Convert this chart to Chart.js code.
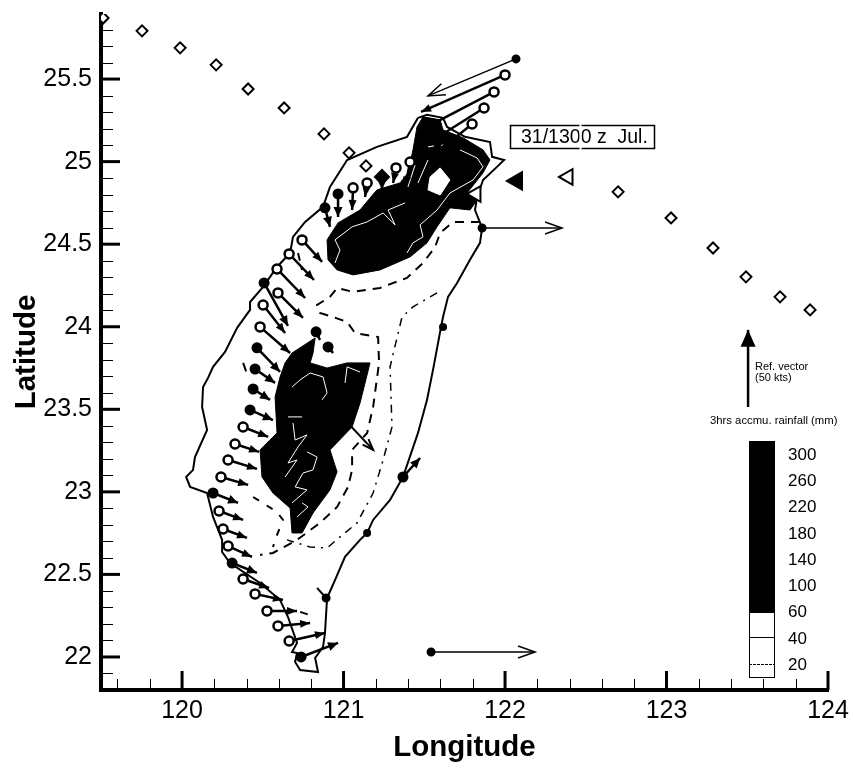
<!DOCTYPE html>
<html>
<head>
<meta charset="utf-8">
<script src="https://cdn.jsdelivr.net/npm/chart.js@4"></script>
<style>
  html, body { margin: 0; padding: 0; background: #fff; }
  canvas { display: block; }
</style>
</head>
<body>
<canvas id="chart" width="853" height="769"></canvas>
<script>
// axis ticks
const xMajorTicks = [120, 121, 122, 123, 124];
const xMinorTicks = [119.6, 119.8, 120.2, 120.4, 120.6, 120.8, 121.2, 121.4, 121.6, 121.8, 122.2, 122.4, 122.6, 122.8, 123.2, 123.4, 123.6, 123.8];
const yMajorTicks = [22, 22.5, 23, 23.5, 24, 24.5, 25, 25.5];
const yMinorTicks = [21.9, 22.1, 22.2, 22.3, 22.4, 22.6, 22.7, 22.8, 22.9, 23.1, 23.2, 23.3, 23.4, 23.6, 23.7, 23.8, 23.9, 24.1, 24.2, 24.3, 24.4, 24.6, 24.7, 24.8, 24.9, 25.1, 25.2, 25.3, 25.4, 25.6, 25.7, 25.8];

// legend and labels
const rainLevels = [300, 260, 220, 180, 140, 100, 60, 40, 20];
const timeLabel = '31/1300 z  Jul.';

// island outline, lon/lat
const coastline = [[121.461,25.265],[121.517,25.283],[121.616,25.265],[121.641,25.210],[121.752,25.150],[121.907,25.119],[121.920,25.029],[121.994,25.010],[121.950,24.968],[121.864,24.889],[121.827,24.786],[121.814,24.707],[121.858,24.598],[121.845,24.508],[121.783,24.405],[121.703,24.265],[121.647,24.181],[121.616,24.059],[121.598,23.969],[121.560,23.769],[121.517,23.557],[121.461,23.357],[121.368,23.090],[121.288,22.951],[121.183,22.830],[121.146,22.751],[121.102,22.709],[121.009,22.606],[120.947,22.466],[120.898,22.357],[120.885,22.145],[120.873,22.061],[120.824,21.994],[120.842,21.909],[120.731,21.921],[120.700,21.970],[120.712,22.024],[120.681,22.030],[120.712,22.085],[120.656,22.242],[120.607,22.345],[120.483,22.448],[120.297,22.569],[120.248,22.636],[120.248,22.709],[120.192,22.848],[120.155,22.993],[120.050,23.030],[120.025,23.090],[120.068,23.133],[120.080,23.211],[120.155,23.375],[120.124,23.514],[120.130,23.635],[120.161,23.690],[120.192,23.757],[120.266,23.847],[120.341,23.993],[120.421,24.102],[120.421,24.150],[120.502,24.241],[120.588,24.362],[120.669,24.447],[120.687,24.544],[120.762,24.635],[120.873,24.726],[120.916,24.847],[121.022,25.010],[121.207,25.089],[121.393,25.150],[121.461,25.265]];

// heavy rain areas
const rainNorth = [[120.904,24.405],[120.898,24.526],[120.966,24.629],[121.102,24.707],[121.207,24.829],[121.350,24.871],[121.399,24.932],[121.430,25.071],[121.455,25.210],[121.492,25.271],[121.598,25.253],[121.616,25.192],[121.740,25.144],[121.864,25.071],[121.907,25.010],[121.864,24.932],[121.765,24.810],[121.827,24.768],[121.783,24.707],[121.659,24.720],[121.579,24.605],[121.517,24.508],[121.412,24.423],[121.226,24.344],[121.059,24.314],[120.960,24.344],[120.904,24.405]];
const rainSouth = [[120.824,23.932],[120.681,23.841],[120.638,23.781],[120.607,23.696],[120.576,23.575],[120.588,23.357],[120.483,23.254],[120.495,23.090],[120.563,22.993],[120.669,22.902],[120.681,22.751],[120.743,22.751],[120.811,22.872],[120.916,23.012],[120.960,23.121],[120.916,23.254],[121.053,23.393],[121.102,23.538],[121.164,23.781],[121.022,23.781],[120.898,23.750],[120.793,23.781],[120.811,23.841],[120.824,23.932]];
const rainHole = [[121.536,24.907],[121.598,24.962],[121.659,24.889],[121.598,24.798],[121.523,24.829],[121.536,24.907]];

// white gaps inside the black areas
const gapLines = [
  [[120.947,24.386],[120.978,24.465],[120.947,24.526],[121.053,24.605],[121.146,24.635],[121.245,24.689],[121.319,24.617],[121.276,24.707],[121.381,24.750]],
  [[121.393,24.447],[121.430,24.508],[121.492,24.544],[121.474,24.617],[121.579,24.707],[121.659,24.810],[121.802,24.889],[121.864,24.968],[121.827,25.022],[121.721,25.071]],
  [[121.399,24.847],[121.443,24.980]],
  [[121.461,24.871],[121.523,25.010]],
  [[121.523,25.089],[121.560,25.095]],
  [[121.604,25.095],[121.635,25.113]],
  [[120.638,23.090],[120.712,23.193],[120.656,23.175],[120.718,23.272],[120.774,23.345],[120.700,23.314],[120.687,23.417]],
  [[120.681,22.933],[120.774,23.012],[120.700,23.030],[120.749,23.114],[120.811,23.133],[120.836,23.211],[120.774,23.242]],
  [[120.712,22.848],[120.780,22.909],[120.743,22.933]],
  [[120.681,23.635],[120.731,23.678],[120.793,23.720],[120.873,23.696],[120.898,23.599],[120.867,23.557]],
  [[121.009,23.660],[121.022,23.757],[121.102,23.726]],
  [[120.656,23.454],[120.743,23.454]]
];

// rainfall contours
const contourDashed = [[121.845,24.635],[121.678,24.635],[121.598,24.568],[121.567,24.483],[121.492,24.386],[121.393,24.296],[121.226,24.235],[121.059,24.211],[120.960,24.235],[120.916,24.181],[120.836,24.132],[120.854,24.084],[120.935,24.059],[121.022,24.029],[121.071,23.962],[121.214,23.938],[121.220,23.781],[121.183,23.514],[121.146,23.357],[121.053,23.254],[121.053,23.133],[121.028,23.030],[120.960,22.909],[120.854,22.812],[120.712,22.709],[120.563,22.630],[120.483,22.618]];
const contourDashDot = [[121.579,24.205],[121.430,24.120],[121.362,24.059],[121.288,23.757],[121.300,23.393],[121.245,23.193],[121.183,22.993],[121.084,22.812],[120.978,22.727],[120.898,22.660],[120.793,22.666],[120.650,22.709]];
const contourWestA = [[120.378,23.781],[120.409,23.696]];
const contourWestB = [[120.440,22.969],[120.588,22.878],[120.625,22.830],[120.588,22.739],[120.563,22.666]];
const contourBits = [[120.731,22.273],[120.811,22.248]];
const contourInner = [[120.718,24.447],[120.743,24.344]];

// wind vectors: lon0, lat0, lon1, lat1
const openStationVectors = [[122.000,25.525,121.480,25.301],[121.932,25.422,121.505,25.204],[121.870,25.325,121.536,25.119],[121.796,25.228,121.598,25.071],[121.412,24.998,121.381,24.847],[121.325,24.962,121.307,24.871],[121.146,24.871,121.133,24.786],[121.059,24.841,121.053,24.707],[120.743,24.526,120.867,24.393],[120.663,24.441,120.817,24.283],[120.588,24.350,120.762,24.174],[120.594,24.205,120.749,24.053],[120.502,24.132,120.638,23.962],[120.483,23.999,120.669,23.841],[120.378,23.393,120.533,23.333],[120.328,23.290,120.477,23.242],[120.285,23.193,120.464,23.139],[120.241,23.090,120.409,23.042],[120.229,22.884,120.378,22.830],[120.254,22.775,120.402,22.721],[120.285,22.672,120.433,22.606],[120.378,22.472,120.539,22.418],[120.452,22.382,120.625,22.345],[120.526,22.279,120.712,22.279],[120.594,22.188,120.793,22.206],[120.663,22.097,120.885,22.145]];
const filledStationVectors = [[121.238,24.907,121.238,24.829],[120.966,24.804,120.966,24.665],[120.885,24.720,120.916,24.605],[120.508,24.265,120.656,24.005],[120.464,23.872,120.607,23.726],[120.452,23.744,120.576,23.660],[120.440,23.623,120.545,23.557],[120.421,23.496,120.563,23.435],[120.192,22.993,120.347,22.933],[120.310,22.569,120.464,22.509],[120.737,22.000,120.966,22.085],[120.830,23.969,120.854,23.920],[120.904,23.878,120.935,23.841],[121.368,23.090,121.474,23.205]];
const hiddenStationVectors = [[121.009,23.435,121.183,23.254]];
const longHeadVectors = [[122.068,25.622,121.523,25.398],[121.858,24.598,122.353,24.598],[121.542,22.030,122.186,22.030]];
const plainVectors = [[120.892,22.357,120.836,22.418]];
const refVector = [[123.505,23.514,123.505,23.981]];
const lonelyStations = [[121.616,23.999],[121.146,22.751]];

// typhoon track
const trackDiamonds = [[119.511,25.870],[119.752,25.792],[119.988,25.689],[120.211,25.586],[120.409,25.440],[120.632,25.325],[120.879,25.168],[121.034,25.053],[121.139,24.974],[122.700,24.817],[123.028,24.659],[123.288,24.477],[123.492,24.302],[123.703,24.181],[123.889,24.102]];
const trackFilledDiamonds = [[121.238,24.907]];
const trackOpenTriangles = [[122.390,24.907],[121.820,24.804]];
const trackFilledTriangles = [[122.074,24.883]];

function toPoints(list) {
  return list.map(p => ({ x: p[0], y: p[1] }));
}

function startPoints(list) {
  return list.map(v => ({ x: v[0], y: v[1] }));
}

// shafts as one broken line, NaN breaks it between vectors
function shaftPoints(list) {
  const out = [];
  list.forEach(v => {
    out.push({ x: v[0], y: v[1] });
    out.push({ x: v[2], y: v[3] });
    out.push({ x: NaN, y: NaN });
  });
  return out;
}

function lineSet(points, order, extra) {
  return Object.assign({
    data: points,
    showLine: true,
    spanGaps: false,
    borderColor: '#000',
    borderWidth: 2,
    pointRadius: 0,
    pointHoverRadius: 0,
    tension: 0,
    fill: false,
    order: order
  }, extra || {});
}

function pointSet(points, order, style, radius, bg, extra) {
  return Object.assign({
    data: points,
    showLine: false,
    pointStyle: style,
    pointRadius: radius,
    pointHoverRadius: radius,
    pointBackgroundColor: bg,
    pointBorderColor: '#000',
    pointBorderWidth: 2,
    order: order
  }, extra || {});
}

const areaFill = (color) => ({ fill: 'shape', backgroundColor: color, borderColor: color, borderWidth: 1 });

const datasets = [
  lineSet(toPoints(coastline), 90),
  lineSet(toPoints(contourDashed), 88, { borderDash: [9, 7] }),
  lineSet(toPoints(contourDashDot), 88, { borderDash: [8, 6, 2, 6], borderWidth: 1.5 }),
  lineSet(toPoints(contourWestA), 88, { borderDash: [9, 7] }),
  lineSet(toPoints(contourWestB), 88, { borderDash: [7, 9] }),
  lineSet(toPoints(contourBits), 88, { borderDash: [8, 12] }),
  lineSet(toPoints(contourInner), 88, { borderDash: [8, 6] }),
  lineSet(toPoints(rainNorth), 80, areaFill('#000')),
  lineSet(toPoints(rainSouth), 80, areaFill('#000')),
  lineSet(toPoints(rainHole), 79, areaFill('#fff')),
  lineSet(shaftPoints(openStationVectors), 70, { borderWidth: 2.5 }),
  lineSet(shaftPoints(filledStationVectors), 70, { borderWidth: 2.5 }),
  lineSet(shaftPoints(hiddenStationVectors), 70),
  lineSet(shaftPoints(longHeadVectors), 70, { borderWidth: 1.5 }),
  lineSet(shaftPoints(plainVectors), 70),
  lineSet(shaftPoints(refVector), 70, { borderWidth: 2.5 }),
  pointSet(startPoints(openStationVectors), 60, 'circle', 4.5, '#fff', { pointBorderWidth: 2.5 }),
  pointSet(startPoints(filledStationVectors), 60, 'circle', 4.5, '#000'),
  pointSet(startPoints(longHeadVectors), 60, 'circle', 3.5, '#000'),
  pointSet(startPoints(plainVectors), 60, 'circle', 3.5, '#000'),
  pointSet(toPoints(lonelyStations), 60, 'circle', 3, '#000'),
  pointSet(toPoints(trackDiamonds), 50, 'rectRot', 5.5, '#fff'),
  pointSet(toPoints(trackFilledDiamonds), 50, 'rectRot', 7, '#000'),
  pointSet(toPoints(trackOpenTriangles), 50, 'triangle', 9, '#fff', { pointRotation: -90 }),
  pointSet(toPoints(trackFilledTriangles), 50, 'triangle', 10, '#000', { pointRotation: -90 })
];

gapLines.forEach(g => {
  datasets.push(lineSet(toPoints(g), 75, { borderColor: '#fff', borderWidth: 1 }));
});

function drawHead(ctx, x0, y0, x1, y1, len, half, solid) {
  const a = Math.atan2(y1 - y0, x1 - x0);
  const bx = x1 - len * Math.cos(a);
  const by = y1 - len * Math.sin(a);
  const px = -Math.sin(a) * half;
  const py = Math.cos(a) * half;
  ctx.beginPath();
  ctx.moveTo(bx + px, by + py);
  ctx.lineTo(x1, y1);
  ctx.lineTo(bx - px, by - py);
  if (solid) {
    ctx.closePath();
    ctx.fill();
  } else {
    ctx.stroke();
  }
}

const arrowHeads = {
  id: 'arrowHeads',
  afterDatasetsDraw(chart) {
    const { ctx, scales: { x, y } } = chart;
    const heads = (list, len, half, solid, lw) => {
      list.forEach(v => {
        ctx.lineWidth = lw;
        drawHead(ctx, x.getPixelForValue(v[0]), y.getPixelForValue(v[1]), x.getPixelForValue(v[2]), y.getPixelForValue(v[3]), len, half, solid);
      });
    };
    ctx.save();
    ctx.fillStyle = '#000';
    ctx.strokeStyle = '#000';
    heads(openStationVectors, 10, 4, true, 1);
    heads(filledStationVectors, 10, 4.5, true, 1);
    heads(hiddenStationVectors, 11, 4, false, 2);
    heads(longHeadVectors, 17, 6, false, 1.5);
    heads(refVector, 17, 7.5, true, 1);
    ctx.restore();
  }
};

const axisMarks = {
  id: 'axisMarks',
  afterDraw(chart) {
    const { ctx, chartArea, scales: { x, y } } = chart;
    const ax = chartArea.left;
    const ay = chartArea.bottom;
    ctx.save();
    ctx.strokeStyle = '#000';
    ctx.lineWidth = 1;
    xMinorTicks.forEach(v => {
      const p = Math.round(x.getPixelForValue(v)) + 0.5;
      ctx.beginPath(); ctx.moveTo(p, ay); ctx.lineTo(p, ay - 11); ctx.stroke();
    });
    yMinorTicks.forEach(v => {
      const p = Math.round(y.getPixelForValue(v)) + 0.5;
      ctx.beginPath(); ctx.moveTo(ax, p); ctx.lineTo(ax + 12, p); ctx.stroke();
    });
    ctx.lineWidth = 3;
    xMajorTicks.forEach(v => {
      const p = x.getPixelForValue(v);
      ctx.beginPath(); ctx.moveTo(p, ay); ctx.lineTo(p, ay - 19); ctx.stroke();
    });
    yMajorTicks.forEach(v => {
      const p = y.getPixelForValue(v);
      ctx.beginPath(); ctx.moveTo(ax, p); ctx.lineTo(ax + 19, p); ctx.stroke();
    });
    ctx.restore();
  }
};

const overlayText = {
  id: 'overlayText',
  afterDraw(chart) {
    const { ctx } = chart;
    ctx.save();
    ctx.fillStyle = '#000';
    ctx.strokeStyle = '#000';
    ctx.textBaseline = 'middle';

    // time box, with the scan seam through it
    ctx.fillStyle = '#fff';
    ctx.fillRect(510, 125, 145, 24);
    ctx.fillStyle = '#000';
    ctx.lineWidth = 1.5;
    ctx.strokeRect(510.5, 125.5, 144, 23);
    ctx.font = '19.5px "Liberation Sans"';
    ctx.textAlign = 'left';
    ctx.fillText(timeLabel, 521, 138);
    ctx.fillStyle = '#fff';
    ctx.fillRect(579.5, 123, 2, 28);
    ctx.fillStyle = '#000';

    ctx.font = '11px "Liberation Sans"';
    ctx.fillText('Ref. vector', 755, 367);
    ctx.fillText('(50 kts)', 755, 378);
    ctx.font = '11.3px "Liberation Sans"';
    ctx.fillText('3hrs accmu. rainfall (mm)', 710, 421);

    // rainfall colour bar
    const barLeft = 749, barWidth = 26, barTop = 441, step = 26.3;
    const blackBottom = 612;
    ctx.fillRect(barLeft, barTop, barWidth, blackBottom - barTop);
    ctx.lineWidth = 1;
    ctx.strokeRect(barLeft + 0.5, blackBottom + 0.5, barWidth - 1, 65);
    ctx.beginPath();
    ctx.moveTo(barLeft, 637.5); ctx.lineTo(barLeft + barWidth, 637.5);
    ctx.stroke();
    ctx.setLineDash([3, 1]);
    ctx.beginPath();
    ctx.moveTo(barLeft, 664.5); ctx.lineTo(barLeft + barWidth, 664.5);
    ctx.stroke();
    ctx.setLineDash([]);
    ctx.font = '17px "Liberation Sans"';
    rainLevels.forEach((level, i) => {
      ctx.fillText(String(level), 788, 455 + i * step);
    });
    ctx.restore();
  }
};

// tick labels must not push the plot area in, the frame is fixed
function noLabelMargins(scale) {
  scale.paddingLeft = 0;
  scale.paddingRight = 0;
  scale.paddingTop = 0;
  scale.paddingBottom = 0;
}

new Chart(document.getElementById('chart'), {
  type: 'scatter',
  data: { datasets: datasets },
  plugins: [arrowHeads, axisMarks, overlayText],
  options: {
    responsive: false,
    animation: false,
    events: [],
    layout: { autoPadding: false, padding: { top: 14, right: 25, left: 0, bottom: 0 } },
    plugins: { legend: { display: false }, tooltip: { enabled: false }, title: { display: false } },
    scales: {
      x: {
        type: 'linear',
        min: 119.498,
        max: 124,
        afterBuildTicks: (scale) => { scale.ticks = xMajorTicks.map(v => ({ value: v })); },
        afterFit: (scale) => { scale.height = 79; noLabelMargins(scale); },
        border: { display: true, color: '#000', width: 4 },
        grid: { display: false, drawTicks: false },
        ticks: {
          autoSkip: false,
          maxRotation: 0,
          padding: 6,
          color: '#000',
          font: { family: '"Liberation Sans"', size: 25 }
        },
        title: {
          display: true,
          text: 'Longitude',
          color: '#000',
          font: { family: '"Liberation Sans"', size: 29.5, weight: 'bold' },
          padding: { top: 0, bottom: 3 }
        }
      },
      y: {
        type: 'linear',
        min: 21.8,
        max: 25.894,
        afterBuildTicks: (scale) => { scale.ticks = yMajorTicks.map(v => ({ value: v })); },
        afterFit: (scale) => { scale.width = 101; noLabelMargins(scale); },
        border: { display: true, color: '#000', width: 4 },
        grid: { display: false, drawTicks: false },
        ticks: {
          autoSkip: false,
          padding: 9,
          color: '#000',
          font: { family: '"Liberation Sans"', size: 25 },
          callback: (v) => String(v)
        },
        title: {
          display: true,
          text: 'Latitude',
          color: '#000',
          font: { family: '"Liberation Sans"', size: 29.5, weight: 'bold' },
          padding: { top: 9, bottom: 0 }
        }
      }
    }
  }
});
</script>
</body>
</html>
